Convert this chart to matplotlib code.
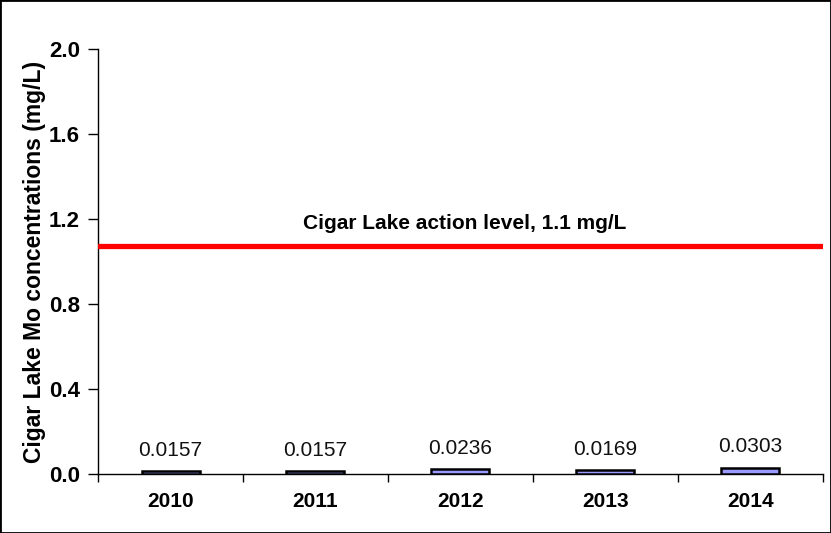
import matplotlib

matplotlib.use("Agg")
import matplotlib.pyplot as plt
import numpy as np
from matplotlib.patches import Rectangle

plt.rcParams["font.family"] = ["Liberation Sans", "DejaVu Sans"]

years = ["2010", "2011", "2012", "2013", "2014"]
mo_conc = [0.0157, 0.0157, 0.0236, 0.0169, 0.0303]
action_level = 1.075
action_label = "Cigar Lake action level, 1.1 mg/L"
y_ticks = [0.0, 0.4, 0.8, 1.2, 1.6, 2.0]

fig = plt.figure(figsize=(8.31, 5.33), dpi=100)
fig.patch.set_facecolor("white")
ax = fig.add_axes([0.118, 0.1107, 0.872, 0.7973])

x = np.arange(len(years))
ax.bar(x, mo_conc, width=0.4, color="#9999FF", edgecolor="black", linewidth=1.8, zorder=3)
for xi, v in zip(x, mo_conc):
    ax.annotate(f"{v:.4f}", xy=(xi, v), xytext=(0, 8), textcoords="offset points",
                ha="center", va="bottom", fontsize=15, color="#111111")

ax.axhline(action_level, color="#FF0000", linewidth=3.8, zorder=4)
ax.text(2.03, 1.18, action_label, ha="center", va="center", fontsize=15,
        fontweight="bold", color="black")

ax.set_xlim(-0.5, len(years) - 0.5)
ax.set_ylim(0, 2.0)
ax.set_yticks(y_ticks)
ax.set_yticklabels([f"{t:.1f}" for t in y_ticks], fontsize=16, fontweight="bold")
ax.set_xticks(x)
ax.set_xticklabels(years, fontsize=15, fontweight="bold")
ax.set_xticks(np.arange(-0.5, len(years)), minor=True)
ax.tick_params(axis="x", which="major", length=0, pad=13)
ax.tick_params(axis="x", which="minor", length=6, width=1, direction="out")
ax.tick_params(axis="y", length=7, width=1, direction="out", pad=6)
ax.set_ylabel("Cigar Lake Mo concentrations (mg/L)", fontsize=16.5, fontweight="bold", labelpad=2)

for spine in ("top", "right"):
    ax.spines[spine].set_visible(False)
ax.spines["left"].set_linewidth(1.0)
ax.spines["bottom"].set_linewidth(1.0)

fig.patches.append(Rectangle((0, 0), 1, 1, transform=fig.transFigure, fill=False,
                             edgecolor="black", linewidth=2, zorder=10))

fig.savefig("out.png", dpi=100, facecolor="white")
